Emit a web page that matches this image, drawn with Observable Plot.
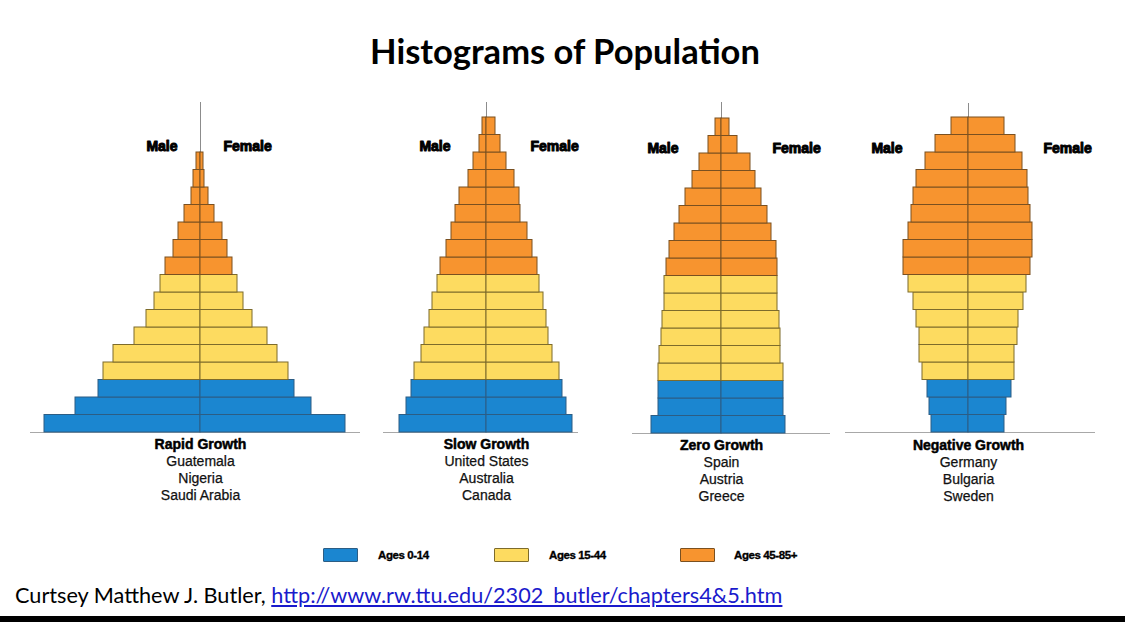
<!DOCTYPE html>
<html>
<head>
<meta charset="utf-8">
<script src="https://cdn.jsdelivr.net/npm/d3@7"></script>
<script src="https://cdn.jsdelivr.net/npm/@observablehq/plot@0.6"></script>
<style>
  html, body { margin: 0; padding: 0; background: #fff; }
  #page { position: relative; width: 1125px; height: 622px; overflow: hidden; background: #fff; font-family: "Liberation Sans", Arial, sans-serif; }
  .abs { position: absolute; white-space: nowrap; }
  #page svg { position: absolute; overflow: visible; }
  .swatch { position: absolute; width: 33px; height: 12px; border: 1px solid; border-radius: 1px; }
  .legtext { position: absolute; font-weight: bold; font-size: 11.5px; line-height: 14px; letter-spacing: -0.4px; -webkit-text-stroke: 0.35px #000; white-space: nowrap; }
</style>
</head>
<body>
<div id="page"></div>
<script>
// ---------------- data ----------------
const ageBands = ["0-4","5-9","10-14","15-19","20-24","25-29","30-34","35-39","40-44",
                  "45-49","50-54","55-59","60-64","65-69","70-74","75-79","80-84","85+"];
const ageStarts = [0,5,10,15,20,25,30,35,40,45,50,55,60,65,70,75,80,85];
const groups = ["Ages 0-14", "Ages 15-44", "Ages 45-85+"];
const groupFill = ["#1b86d0", "#fddb60", "#f7942f"];
const groupStroke = ["#2c5d84", "#7d6b2b", "#7a5020"];

const pyramidTitles = ["Rapid Growth", "Slow Growth", "Zero Growth", "Negative Growth"];
const pyramidCountries = [
  ["Guatemala", "Nigeria", "Saudi Arabia"],
  ["United States", "Australia", "Canada"],
  ["Spain", "Austria", "Greece"],
  ["Germany", "Bulgaria", "Sweden"]
];
const sexLabels = ["Male", "Female"];

// relative population per age band (youngest first), arbitrary units
const rapidMale   = [156,125,102,97,87,66,54,46,40,35,27,22,16,9,7,4];
const rapidFemale = [145,111,94,88,77,67,52,43,37,32,27,22,14,8,4,3];
const slowMale    = [87,80,75,72,65,62,57,54,49,46,40,35,31,27,18,13,7,4];
const slowFemale  = [86,80,76,73,66,62,60,57,53,51,46,41,34,33,28,20,14,9];
const zeroMale    = [70,63,63,63,62,60,59,57,57,55,52,47,42,36,29,22,13,6];
const zeroFemale  = [64,62,62,62,59,59,58,56,56,56,55,50,46,40,34,29,16,8];
const negMale     = [37,39,41,46,49,49,52,55,60,65,65,60,57,55,52,43,33,17];
const negFemale   = [36,38,43,46,46,49,50,55,58,62,64,64,62,60,59,54,47,36];

const captionText = "Curtsey Matthew J. Butler, ";
const captionLink = "http://www.rw.ttu.edu/2302_butler/chapters4&5.htm";
const chartTitle = "Histograms of Population";

// ---------------- layout ----------------
const page = document.getElementById("page");
const barH = 17.5;
const svgTop = 95, svgH = 420, pad = 30;
const layouts = [
  {left: 30,  right: 360,  center: 200, top: 102, bottom: 432, maleEnd: -23, femaleStart: 23, sexDy: 44, labDy: 12},
  {left: 383, right: 578,  center: 486, top: 102, bottom: 432, maleEnd: -36, femaleStart: 44, sexDy: 44, labDy: 12},
  {left: 632, right: 830,  center: 721, top: 102, bottom: 433, maleEnd: -43, femaleStart: 51, sexDy: 46, labDy: 12},
  {left: 845, right: 1095, center: 968, top: 103, bottom: 432, maleEnd: -66, femaleStart: 75, sexDy: 45, labDy: 13}
];
const series = [[rapidMale, rapidFemale], [slowMale, slowFemale], [zeroMale, zeroFemale], [negMale, negFemale]];

function groupOf(i) {
  const a = ageStarts[i];
  return a < 15 ? 0 : a < 45 ? 1 : 2;
}

const font = "Liberation Sans, Arial, sans-serif";
series.forEach(([male, female], k) => {
  const L = layouts[k];
  const rows = [];
  male.forEach((v, i) => rows.push({band: i, age: ageBands[i], sex: "Male", x1: -v, x2: 0, g: groupOf(i)}));
  female.forEach((v, i) => rows.push({band: i, age: ageBands[i], sex: "Female", x1: 0, x2: v, g: groupOf(i)}));
  const countryMarks = pyramidCountries[k].map((c, j) =>
    Plot.text([c], {x: 0, frameAnchor: "bottom", dy: L.labDy + 17 * (j + 1), lineAnchor: "middle",
                    fontSize: 14, fill: "#111", stroke: "#111", strokeWidth: 0.25, fontFamily: font}));
  const svg = Plot.plot({
    width: (L.right - L.left) + 2 * pad,
    height: svgH,
    marginLeft: pad, marginRight: pad,
    marginTop: L.top - svgTop,
    marginBottom: svgTop + svgH - L.bottom,
    x: {domain: [L.left - L.center, L.right - L.center], axis: null},
    y: {domain: [0, (L.bottom - L.top) / barH], axis: null},
    color: {type: "identity"},
    style: {background: "transparent", overflow: "visible"},
    marks: [
      Plot.ruleY([0], {stroke: "#a8a8a8", strokeWidth: 1.2}),
      Plot.ruleX([0], {stroke: "#8c8c8c", strokeWidth: 1}),
      Plot.rect(rows, {x1: "x1", x2: "x2", y1: "band", y2: d => d.band + 1,
                       fill: d => groupFill[d.g], stroke: d => groupStroke[d.g], strokeWidth: 1}),
      Plot.text([sexLabels[0]], {x: L.maleEnd, frameAnchor: "top", dy: L.sexDy, textAnchor: "end", lineAnchor: "middle",
                       fontSize: 14, fontWeight: "bold", fill: "#000", stroke: "#000", strokeWidth: 1,
                       fontFamily: font}),
      Plot.text([sexLabels[1]], {x: L.femaleStart, frameAnchor: "top", dy: L.sexDy, textAnchor: "start", lineAnchor: "middle",
                       fontSize: 14, fontWeight: "bold", fill: "#000", stroke: "#000", strokeWidth: 1,
                       fontFamily: font}),
      Plot.text([pyramidTitles[k]], {x: 0, frameAnchor: "bottom", dy: L.labDy, lineAnchor: "middle",
                       fontSize: 14, fontWeight: "bold", fill: "#000", stroke: "#000", strokeWidth: 0.5,
                       fontFamily: font}),
      ...countryMarks
    ]
  });
  svg.style.left = (L.left - pad) + "px";
  svg.style.top = svgTop + "px";
  page.appendChild(svg);
});

// ---------------- title ----------------
function fitText(el, targetWidth) {
  const w = el.getBoundingClientRect().width;
  const fs = parseFloat(getComputedStyle(el).fontSize);
  el.style.fontSize = (fs * targetWidth / w) + "px";
}
const title = document.createElement("div");
title.className = "abs";
title.textContent = chartTitle;
title.style.cssText += "font-family: Lato, 'Open Sans', sans-serif; font-weight: bold; font-size: 32px; color:#000;";
page.appendChild(title);
fitText(title, 390);
{
  const r = title.getBoundingClientRect();
  title.style.left = (565 - r.width / 2) + "px";
  title.style.top = (50 - r.height / 2) + "px";
}

// ---------------- legend ----------------
const legendPos = [{box: 323, text: 378}, {box: 494, text: 549}, {box: 680, text: 734}];
groups.forEach((g, i) => {
  const sw = document.createElement("div");
  sw.className = "swatch";
  sw.style.left = legendPos[i].box + "px";
  sw.style.top = "548px";
  sw.style.background = groupFill[i];
  sw.style.borderColor = groupStroke[i];
  page.appendChild(sw);
  const t = document.createElement("div");
  t.className = "legtext";
  t.textContent = g;
  t.style.left = legendPos[i].text + "px";
  t.style.top = "548px";
  page.appendChild(t);
});

// ---------------- caption ----------------
const cap = document.createElement("div");
cap.className = "abs";
cap.style.cssText += "font-family: Lato, 'Open Sans', sans-serif; font-size: 19px; color:#000; left: 15px;";
cap.appendChild(document.createTextNode(captionText));
const a = document.createElement("a");
a.href = "#";
a.textContent = captionLink;
a.style.color = "#1a1acc";
a.style.textDecoration = "underline";
cap.appendChild(a);
page.appendChild(cap);
fitText(cap, 768);
{
  const r = cap.getBoundingClientRect();
  cap.style.top = (595 - r.height / 2) + "px";
}

// bottom bar
const bar = document.createElement("div");
bar.className = "abs";
bar.style.cssText += "left:0; top:616px; width:1125px; height:6px; background:#000;";
page.appendChild(bar);
</script>
</body>
</html>
